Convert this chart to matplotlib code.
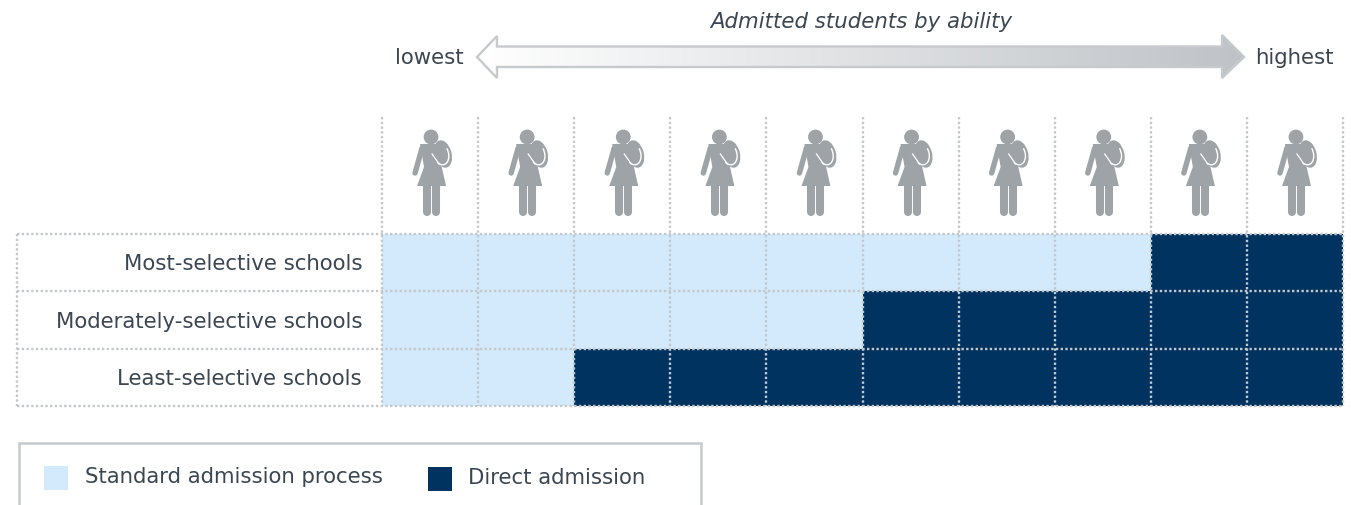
import numpy as np
from matplotlib import pyplot as plt
from matplotlib.patches import Polygon, Circle, Ellipse, Rectangle, Arc

W, H = 1351, 506

# Data
schools = ['Most-selective schools', 'Moderately-selective schools', 'Least-selective schools']
standard_cols = [8, 5, 2]  # deciles going through the standard process
n_cols = 10
legend_labels = ['Standard admission process', 'Direct admission']

LIGHT = '#d3eafd'
DARK = '#00335f'
DOT = '#c4c8cb'
TEXT = '#3b4652'
ICON = '#9ea3a7'
FS = 15.3

plt.rcParams['font.family'] = ['DejaVu Sans']

fig = plt.figure(figsize=(W / 100, H / 100), dpi=100)

# Pixel overlay for the labels, arrow, icons, legend
bg = fig.add_axes([0, 0, 1, 1], zorder=3)
bg.set_xlim(0, W)
bg.set_ylim(H, 0)
bg.axis('off')
bg.patch.set_alpha(0)

# Grid of cells
grid_l, grid_r, grid_t, grid_b = 382, 1343, 235, 407
ax = fig.add_axes([grid_l / W, 1 - grid_b / H, (grid_r - grid_l) / W, (grid_b - grid_t) / H], zorder=2)
cells = np.array([[0 if c < s else 1 for c in range(n_cols)] for s in standard_cols])
ax.pcolormesh(np.arange(n_cols + 1), np.arange(len(schools) + 1), cells,
              cmap=plt.matplotlib.colors.ListedColormap([LIGHT, DARK]), vmin=0, vmax=1)
ax.set_xlim(0, n_cols)
ax.set_ylim(len(schools), 0)
ax.axis('off')

col_w = (grid_r - grid_l) / n_cols
row_h = (grid_b - grid_t) / len(schools)
dots = dict(color=DOT, lw=1.7, linestyle=(0, (1, 1)), zorder=5)

# dotted rules
for r in range(len(schools) + 1):
    y = grid_t + r * row_h
    bg.plot([17, grid_r], [y, y], **dots)
bg.plot([17, 17], [grid_t, grid_b], **dots)
for c in range(n_cols + 1):
    x = grid_l + c * col_w
    bg.plot([x, x], [118, grid_b], **dots)

# row labels
for r, name in enumerate(schools):
    bg.text(362, grid_t + (r + 0.5) * row_h + 0.5, name, ha='right', va='center', fontsize=FS, color=TEXT)


def draw_student(cx):
    # woman with backpack, offsets from column centre
    bg.add_patch(Ellipse((cx + 13, 155), 17, 28, angle=-15, fc=ICON, ec='none', zorder=6))
    bg.add_patch(Circle((cx + 1, 138), 7.4, fc=ICON, ec='none', zorder=6))
    bg.add_patch(Polygon([(cx - 10, 145), (cx + 9, 145), (cx + 11, 165), (cx + 16, 187),
                          (cx - 13, 187), (cx - 6, 168)], fc=ICON, ec='none', zorder=6))
    bg.plot([cx - 8, cx - 15], [149, 174], color=ICON, lw=3.9, solid_capstyle='round', zorder=6)
    for dx in (-3, 6):
        bg.plot([cx + dx, cx + dx], [186, 213], color=ICON, lw=5.8, solid_capstyle='round', zorder=6)
    bg.add_patch(Arc((cx + 11, 155), 15, 22, angle=-15, theta1=330, theta2=130,
                     ec='white', lw=1.0, zorder=7))
    bg.plot([cx + 2, cx + 9], [155, 165], color='white', lw=0.9, zorder=7)


for c in range(n_cols):
    draw_student(grid_l + (c + 0.5) * col_w)

# gradient arrow
arrow = Polygon([(477, 58), (497, 37), (497, 47.5), (1222, 47.5), (1222, 36), (1244, 58),
                 (1222, 79), (1222, 68), (497, 68), (497, 79)],
                fc='none', ec='#c6cacd', lw=1.7, zorder=4, transform=bg.transData)
bg.add_patch(arrow)
grad = np.linspace(0, 1, 256).reshape(1, -1)
im = bg.imshow(grad, extent=(477, 1244, 79, 36), aspect='auto', zorder=3,
               cmap=plt.matplotlib.colors.LinearSegmentedColormap.from_list('g', ['#ffffff', '#bfc3c7']))
im.set_clip_path(arrow)
bg.set_xlim(0, W)
bg.set_ylim(H, 0)

bg.text(861, 21.5, 'Admitted students by ability', ha='center', va='center', style='italic', fontsize=FS, color=TEXT)
bg.text(464, 58, 'lowest', ha='right', va='center', fontsize=FS, color=TEXT)
bg.text(1255, 58, 'highest', ha='left', va='center', fontsize=FS, color=TEXT)

# legend box, runs off the bottom
bg.plot([18.5, 18.5, 700.5, 700.5], [H, 444, 444, H], color='#c6cacd', lw=1.8, solid_joinstyle='miter')
bg.add_patch(Rectangle((44, 467), 24, 24, fc=LIGHT, ec='none'))
bg.add_patch(Rectangle((428, 468), 24, 24, fc=DARK, ec='none'))
bg.text(85, 477, legend_labels[0], ha='left', va='center', fontsize=FS, color=TEXT)
bg.text(468, 478, legend_labels[1], ha='left', va='center', fontsize=FS, color=TEXT)

fig.savefig('out.png', dpi=100)
